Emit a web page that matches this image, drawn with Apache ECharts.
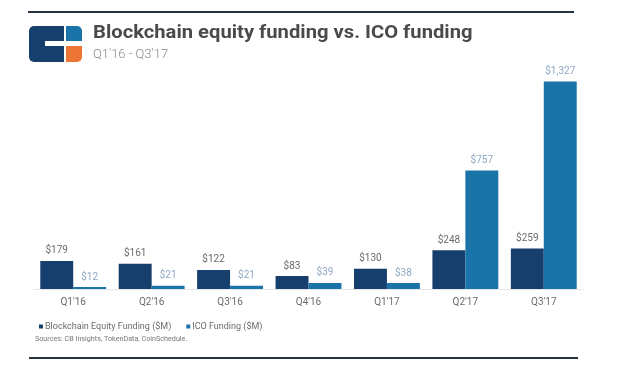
<!DOCTYPE html>
<html><head><meta charset="utf-8">
<script src="https://cdn.jsdelivr.net/npm/echarts@6/dist/echarts.min.js"></script>
<style>html,body{margin:0;padding:0;background:#fff}#c{width:620px;height:366px}</style>
</head><body><div id="c"></div>
<script>
var categories = ["Q1'16","Q2'16","Q3'16","Q4'16","Q1'17","Q2'17","Q3'17"];
var equityFunding = [179,161,122,83,130,248,259];
var icoFunding = [12,21,21,39,38,757,1327];
var seriesNames = ["Blockchain Equity Funding ($M)","ICO Funding ($M)"];
var titleText = "Blockchain equity funding vs. ICO funding";
var subtitleText = "Q1'16 - Q3'17";
var sourceText = "Sources: CB Insights, TokenData, CoinSchedule.";

var navy = '#173f6e', blue = '#1a73a9', orange = '#ec7535';
var chart = echarts.init(document.getElementById('c'), null, {renderer:'canvas'});
function money(v){return '$' + v.toLocaleString('en-US');}
chart.setOption({
  animation:false,
  textStyle:{fontFamily:'Roboto'},
  grid:{left:34,right:37,top:70,bottom:77},
  xAxis:{type:'category',data:categories,
    axisLine:{lineStyle:{color:'#e6e6e6'}},axisTick:{show:false},
    axisLabel:{color:'#6b6b6b',fontSize:10,margin:8,fontFamily:'Roboto'}},
  yAxis:{type:'value',min:0,max:1400,show:false,splitLine:{show:false}},
  legend:{left:34,top:317,icon:'rect',itemWidth:4,itemHeight:4,itemGap:15,
    textStyle:{color:'#6b6b6b',fontSize:9,fontFamily:'Roboto',padding:[0,0,0,-3]},
    data:seriesNames},
  series:[
    {name:seriesNames[0],type:'bar',data:equityFunding,barGap:'0%',barCategoryGap:'16%',
      itemStyle:{color:navy},
      label:{show:true,position:'top',distance:5,color:'#6b6b6b',fontSize:10,formatter:function(p){return money(p.value);}}},
    {name:seriesNames[1],type:'bar',data:icoFunding,
      itemStyle:{color:blue},
      label:{show:true,position:'top',distance:5,color:'#8ea8c4',fontSize:10,formatter:function(p){return money(p.value);}}}
  ],
  graphic:[
    {type:'rect',shape:{x:28,y:11,width:546,height:2},style:{fill:'#27323f'}},
    {type:'rect',shape:{x:29,y:357,width:549,height:2},style:{fill:'#27323f'}},
    // logo
    {type:'rect',shape:{x:29,y:26,width:35,height:36,r:[5,0,0,5]},style:{fill:navy}},
    {type:'rect',shape:{x:45,y:41,width:19,height:5},style:{fill:'#fff'}},
    {type:'rect',shape:{x:66,y:26,width:16,height:15,r:[0,5,0,0]},style:{fill:blue}},
    {type:'rect',shape:{x:66,y:46,width:16,height:16,r:[0,0,5,0]},style:{fill:orange}},
    {type:'text',x:93,y:24,scaleX:1.01,scaleY:0.92,style:{x:0,y:0,text:titleText,fill:'#4a4a4a',font:'bold 20px Roboto'}},
    {type:'text',x:93,y:49,scaleX:1.08,style:{x:0,y:0,text:subtitleText,fill:'#8a8a8a',font:'300 12px Roboto'}},
    {type:'text',x:35,y:336,style:{x:0,y:0,text:sourceText,fill:'#777',font:'7.2px Roboto'}}
  ]
});
</script></body></html>
